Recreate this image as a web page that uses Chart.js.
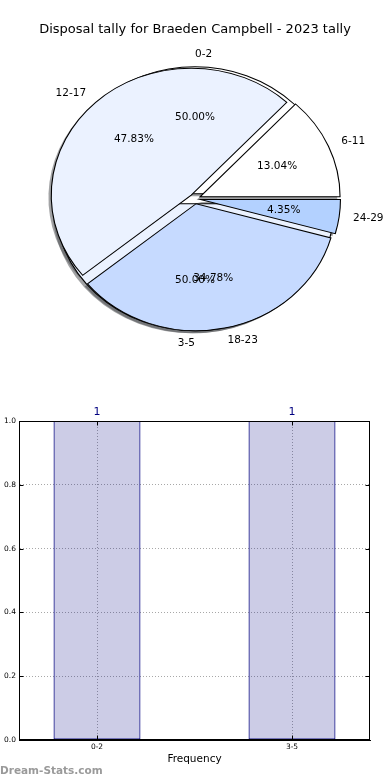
<!DOCTYPE html>
<html><head><meta charset="utf-8">
<script src="https://cdn.jsdelivr.net/npm/chart.js@4/dist/chart.umd.min.js"></script>
<style>
html,body{margin:0;padding:0;background:#fff;}
#wrap{position:relative;width:390px;height:780px;overflow:hidden;}
#pieBox{position:absolute;left:0;top:0;width:390px;height:380px;}
#barBox{position:absolute;left:0;top:380px;width:390px;height:400px;}
</style></head><body>
<div id="wrap"><div id="pieBox"><canvas id="pie"></canvas></div><div id="barBox"><canvas id="bar"></canvas></div></div>
<script>
// ---------- data ----------
const chartTitle = 'Disposal tally for Braeden Campbell - 2023 tally';
const firstPieLabels = ['0-2', '3-5'];
const firstPieValues = [1, 1];
const secondPieLabels = ['6-11', '12-17', '18-23', '24-29'];
const secondPieValues = [3, 11, 8, 1];
const barCategories = ['0-2', '3-5'];
const barValues = [1, 1];
const xAxisTitle = 'Frequency';
const watermark = 'Dream-Stats.com';

// ---------- styles ----------
const FONT = "'DejaVu Sans', 'Liberation Sans', sans-serif";
const firstPieColors = ['#ffffff', '#ebf2ff'];
const secondPieColors = ['#ffffff', '#ebf2ff', '#c6daff', '#b3d1ff'];
const pieGeom = { ry: 127, sx: 140 / 127, explode: 5, shadow: 0.02, pctDist: 0.6, labelDist: 1.1 };

function pieCenter(chart) {
  const a = chart.chartArea;
  return { cx: (a.left + a.right) / 2, cy: (a.top + a.bottom) / 2 };
}

const piePlugin = {
  id: 'ellipsePie',
  beforeDatasetsDraw(chart) {
    const { cx, cy } = pieCenter(chart);
    const R = pieGeom.ry, d = pieGeom.explode;
    const ctx = chart.ctx;
    const metas = chart.data.datasets.map((ds, i) => chart.getDatasetMeta(i));
    metas.forEach(meta => meta.data.forEach(el => {
      const m = (el.startAngle + el.endAngle) / 2;
      el.x = cx + Math.cos(m) * d;
      el.y = cy + Math.sin(m) * d;
      el.innerRadius = 0;
      el.outerRadius = R;
    }));
    ctx.save();
    ctx.translate(cx, cy);
    ctx.scale(pieGeom.sx, -1);
    ctx.translate(-cx, -cy);
    const off = -pieGeom.shadow * R;
    metas.slice().reverse().forEach(meta => meta.data.forEach(el => {
      ctx.beginPath();
      ctx.moveTo(el.x + off, el.y + off);
      ctx.arc(el.x + off, el.y + off, R, el.startAngle, el.endAngle);
      ctx.closePath();
      ctx.fillStyle = 'rgba(70,72,76,0.5)';
      ctx.fill();
    }));
  },
  afterDatasetsDraw(chart) {
    const ctx = chart.ctx;
    ctx.restore();
    const { cx, cy } = pieCenter(chart);
    const R = pieGeom.ry, d = pieGeom.explode;
    ctx.save();
    ctx.fillStyle = '#000';
    ctx.font = '10.5px ' + FONT;
    ctx.textBaseline = 'middle';
    const order = chart.data.datasets.map((ds, i) => i).reverse();
    order.forEach(i => {
      const ds = chart.data.datasets[i];
      const meta = chart.getDatasetMeta(i);
      const total = ds.data.reduce((a, b) => a + b, 0);
      meta.data.forEach((el, j) => {
        const m = (el.startAngle + el.endAngle) / 2;
        const c = Math.cos(m), s = Math.sin(m);
        const rl = d + pieGeom.labelDist * R;
        ctx.textAlign = c > 0 ? 'left' : 'right';
        ctx.fillText(ds.sliceLabels[j], cx + pieGeom.sx * c * rl, cy - s * rl);
        const rp = d + pieGeom.pctDist * R;
        ctx.textAlign = 'center';
        ctx.fillText((ds.data[j] / total * 100).toFixed(2) + '%', cx + pieGeom.sx * c * rp, cy - s * rp);
      });
    });
    ctx.restore();
  }
};

new Chart(document.getElementById('pie'), {
  type: 'pie',
  data: {
    labels: secondPieLabels,
    datasets: [
      { data: secondPieValues, sliceLabels: secondPieLabels, backgroundColor: secondPieColors,
        borderColor: '#000', borderWidth: 1, borderJoinStyle: 'miter', hoverOffset: 0, offset: 0, clip: false },
      { data: firstPieValues, sliceLabels: firstPieLabels, backgroundColor: firstPieColors,
        borderColor: '#000', borderWidth: 1, borderJoinStyle: 'miter', hoverOffset: 0, offset: 0, clip: false }
    ]
  },
  options: {
    responsive: true, maintainAspectRatio: false, animation: false,
    rotation: 90,
    layout: { padding: { bottom: 32 } },
    events: [],
    plugins: {
      legend: { display: false }, tooltip: { enabled: false },
      title: { display: true, text: chartTitle, color: '#000', font: { family: FONT, size: 13, weight: 'normal' }, padding: { top: 22, bottom: 12 } }
    }
  },
  plugins: [piePlugin]
});

// ---------- bar chart ----------
const barPlugin = {
  id: 'barExtras',
  afterDatasetsDraw(chart) {
    const { ctx, chartArea: a, scales } = chart;
    ctx.save();
    const L = Math.round(a.left) + 0.5, T = Math.round(a.top) + 0.5, Rr = Math.round(a.right) - 0.5, B = Math.round(a.bottom) - 0.5;
    ctx.strokeStyle = '#000'; ctx.lineWidth = 1;
    ctx.beginPath();
    scales.y.ticks.forEach(t => {
      const y = Math.round(scales.y.getPixelForValue(t.value)) + 0.5;
      ctx.moveTo(L, y); ctx.lineTo(L + 4, y);
      ctx.moveTo(Rr, y); ctx.lineTo(Rr - 4, y);
    });
    scales.x.ticks.forEach(t => {
      const x = Math.round(scales.x.getPixelForValue(t.value)) + 0.5;
      ctx.moveTo(x, B); ctx.lineTo(x, B - 4);
      ctx.moveTo(x, T); ctx.lineTo(x, T + 4);
    });
    ctx.stroke();
    ctx.strokeRect(L, T, Rr - L, B - T);
    // value labels
    ctx.fillStyle = '#000080';
    ctx.font = '11px ' + FONT;
    ctx.textAlign = 'center'; ctx.textBaseline = 'middle';
    const meta = chart.getDatasetMeta(0);
    meta.data.forEach((el, i) => {
      ctx.fillText(String(barValues[i]), el.x, el.y - 9);
    });
    // watermark
    ctx.fillStyle = '#9a9a9a';
    ctx.font = 'bold 10.5px ' + FONT;
    ctx.textAlign = 'left';
    ctx.fillText(watermark, 0, chart.height - 9);
    ctx.restore();
  }
};

new Chart(document.getElementById('bar'), {
  type: 'bar',
  data: {
    datasets: [{
      data: barCategories.map((c, i) => ({ x: i, y: barValues[i] })),
      backgroundColor: 'rgba(0,0,128,0.2)', borderColor: '#000080', borderWidth: 1, borderSkipped: false,
      barPercentage: 0.446, categoryPercentage: 1
    }]
  },
  options: {
    responsive: true, maintainAspectRatio: false, animation: false, events: [],
    layout: { padding: { top: 41, right: 20, bottom: 12, left: 0 } },
    plugins: { legend: { display: false }, tooltip: { enabled: false } },
    scales: {
      x: {
        type: 'linear', min: -0.4, max: 1.4, offset: false,
        afterBuildTicks: s => { s.ticks = barCategories.map((c, i) => ({ value: i })); },
        afterFit: s => { s.height = 28; },
        ticks: { callback: v => barCategories[v] ?? '', color: '#000', font: { family: FONT, size: 7.5 }, padding: 3, autoSkip: false, maxRotation: 0 },
        grid: { color: '#a8a8a8', lineWidth: 1, drawTicks: false, offset: false },
        border: { display: true, color: '#000', width: 1, dash: [1, 2] },
        title: { display: true, text: xAxisTitle, color: '#000', font: { family: FONT, size: 10.5 }, padding: { top: 0, bottom: 2 } }
      },
      y: {
        min: 0, max: 1,
        afterFit: s => { s.width = 19; },
        ticks: { stepSize: 0.2, callback: v => Number(v).toFixed(1), color: '#000', font: { family: FONT, size: 7.5 }, padding: 3 },
        grid: { color: '#a8a8a8', lineWidth: 1, drawTicks: false },
        border: { display: true, color: '#000', width: 1, dash: [1, 2] }
      }
    }
  },
  plugins: [barPlugin]
});
</script>
</body></html>
